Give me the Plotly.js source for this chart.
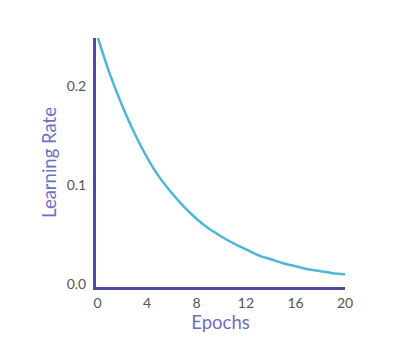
<!DOCTYPE html>
<html>
<head>
<meta charset="utf-8">
<script src="https://cdn.plot.ly/plotly-3.0.1.min.js"></script>
<style>html,body{margin:0;padding:0;background:#fff;}#chart{width:409px;height:360px;}</style>
</head>
<body>
<div id="chart"></div>
<script>
const epochs = [0,1,2,3,4,5,6,7,8,9,10,11,12,13,14,15,16,17,18,19,20];
const learningRate = [0.250,0.212,0.180,0.152,0.128,0.108,0.092,0.078,0.066,0.056,0.048,0.041,0.035,0.029,0.025,0.021,0.018,0.015,0.013,0.011,0.010];
const xTicks = [0,4,8,12,16,20];
const yTicks = [0.0,0.1,0.2];
const yTickLabels = ['0.0','0.1','0.2'];

const trace = {
  x: epochs, y: learningRate, type: 'scatter', mode: 'lines',
  line: {color: '#4db6da', width: 2.5, shape: 'spline', smoothing: 1},
  cliponaxis: true, hoverinfo: 'skip'
};
const axisColor = '#4b4ba6';
const titleColor = '#6e6ec6';
const tickColor = '#555';
const layout = {
  width: 409, height: 360,
  margin: {l: 96, r: 64, t: 38, b: 73},
  paper_bgcolor: '#fff', plot_bgcolor: '#fff',
  showlegend: false,
  font: {family: 'Lato, "Open Sans", sans-serif', color: tickColor},
  xaxis: {
    range: [-0.12, 20], tickvals: xTicks, ticktext: xTicks.map(String),
    showgrid: false, zeroline: false, showline: true, linecolor: axisColor, linewidth: 3,
    ticks: '', tickfont: {size: 14, color: tickColor}, ticklabelstandoff: 1,
    title: {text: 'Epochs', font: {size: 18.5, color: titleColor}, standoff: 7}
  },
  yaxis: {
    range: [-0.003, 0.2485], tickvals: yTicks, ticktext: yTickLabels,
    showgrid: false, zeroline: false, showline: true, linecolor: axisColor, linewidth: 3,
    ticks: '', tickfont: {size: 14, color: tickColor}, ticklabelstandoff: 4,
    title: {text: 'Learning Rate', font: {size: 18.5, color: titleColor}, standoff: 6}
  }
};
Plotly.newPlot('chart', [trace], layout, {displayModeBar: false, staticPlot: true});
</script>
</body>
</html>
